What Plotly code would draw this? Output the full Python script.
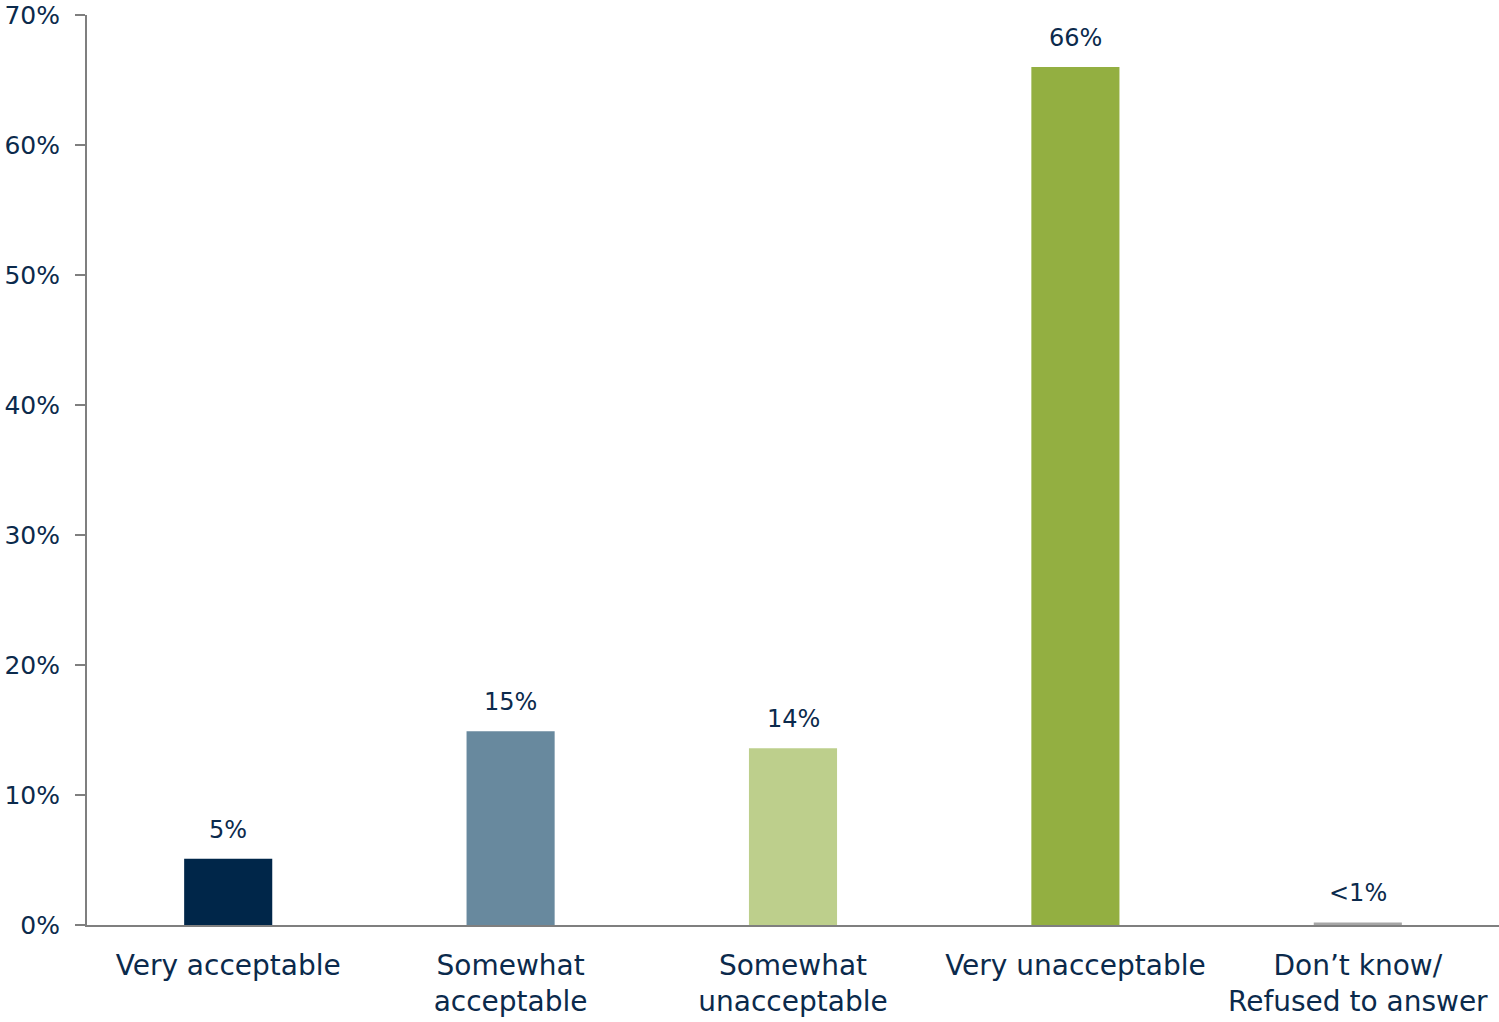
import plotly.graph_objects as go

categories = ["Very acceptable", "Somewhat<br>acceptable", "Somewhat<br>unacceptable",
              "Very unacceptable", "Don’t know/<br>Refused to answer"]
values = [5.1, 14.9, 13.6, 66.0, 0.2]
labels = ["5%", "15%", "14%", "66%", "<1%"]
colors = ["#002649", "#68899E", "#BDCF8C", "#93AF41", "#A6A6A6"]
y_ticks = [0, 10, 20, 30, 40, 50, 60, 70]

navy = "#0B2A4C"
font_family = "DejaVu Sans, sans-serif"

fig = go.Figure(go.Bar(
    x=categories, y=values, marker=dict(color=colors, line=dict(width=0)),
    hoverinfo="skip",
))

for c, v, t in zip(categories, values, labels):
    fig.add_annotation(x=c, y=v, text=t, showarrow=False, yanchor="bottom",
                       yshift=13, font=dict(size=24, color=navy, family=font_family))

fig.update_layout(
    width=1499, height=1022,
    margin=dict(l=87, r=0, t=15, b=97),
    plot_bgcolor="white", paper_bgcolor="white",
    bargap=0.688, showlegend=False,
    font=dict(family=font_family, color=navy, size=25),
)
fig.update_yaxes(
    range=[0, 70], tickvals=y_ticks, ticktext=[f"{v}%" for v in y_ticks],
    showgrid=False, zeroline=False, showline=True, linecolor="#7F7F7F", linewidth=2,
    ticks="outside", ticklen=10, tickcolor="#7F7F7F", tickwidth=2,
    ticklabelstandoff=10, tickfont=dict(size=25, color=navy), automargin=False,
)
fig.update_xaxes(
    showline=True, linecolor="#7F7F7F", linewidth=2, showgrid=False,
    ticks="", tickangle=0, tickfont=dict(size=28, color=navy), ticklabelstandoff=14,
    automargin=False,
)

fig.write_html("out.html", config={"displayModeBar": False},
               post_script="document.body.style.margin='0';")
